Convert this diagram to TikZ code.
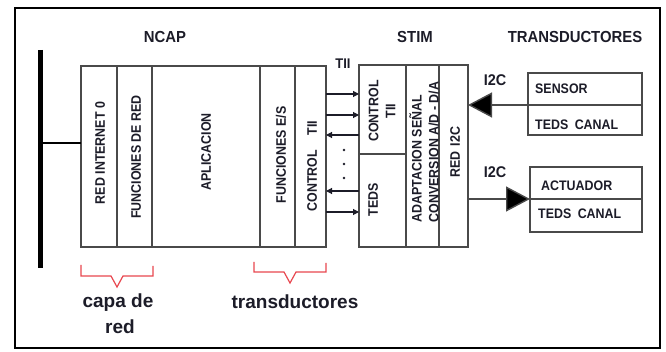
\documentclass[tikz,border=0pt]{standalone}
\usepackage{fontspec}
\setmainfont{Liberation Sans}
\newfontfamily\narrowf[FakeStretch=0.9]{Liberation Sans}
\newfontfamily\headf[FakeStretch=0.93]{Liberation Sans}
\usetikzlibrary{arrows.meta,calc}
\definecolor{boxc}{HTML}{4A4A4A}
\definecolor{txtc}{HTML}{1C1C28}
\definecolor{bracec}{HTML}{E8474F}
\begin{document}
\begin{tikzpicture}[x=1pt,y=-1pt,
  box/.style={draw=boxc, line width=1.4pt, fill=white, inner sep=0pt, outer sep=0pt},
  vtxt/.style={rotate=90, font=\narrowf\bfseries\fontsize{13.8}{17}\selectfont, text=txtc, inner sep=0pt},
  htxt/.style={font=\narrowf\bfseries\fontsize{13.8}{15}\selectfont, text=txtc, inner sep=0pt, anchor=west},
  head/.style={font=\headf\bfseries\fontsize{16}{18}\selectfont, text=txtc, inner sep=0pt},
  bigtxt/.style={font=\bfseries\fontsize{19}{22}\selectfont, text=txtc, inner sep=0pt},
  i2c/.style={font=\headf\bfseries\fontsize{15.5}{17}\selectfont, text=txtc, inner sep=0pt},
  sig/.style={draw=txtc, line width=1.1pt, -{Triangle[length=6pt,width=6pt]}},
  bigarrow/.style={draw=boxc, line width=1.4pt, -{Triangle[length=24pt,width=25pt,fill=black]}},
  bracel/.style={draw=bracec, line width=1.2pt}]
\useasboundingbox (0,0) rectangle (666,352);
% frame
\node[draw=black, line width=2pt, minimum width=645pt, minimum height=340pt, inner sep=0pt] (frame) at (337.5,178) {};
% bus
\coordinate (busT) at (40,50);
\coordinate (busB) at (40,268);
\coordinate (busM) at (40,143);
\draw[line width=5pt] (busT) -- (busB);
% NCAP columns
\node[box, minimum width=36pt, minimum height=181pt] (c1) at (99,156.5) {};
\node[box, minimum width=35pt, minimum height=181pt] (c2) at (134.5,156.5) {};
\node[box, minimum width=108pt, minimum height=181pt] (c3) at (206,156.5) {};
\node[box, minimum width=35pt, minimum height=181pt] (c4) at (277.5,156.5) {};
\node[box, minimum width=31pt, minimum height=181pt] (c5) at (310.5,156.5) {};
\draw[line width=2.2pt] (busM) -- (c1.west |- busM);
\node[vtxt] (t1) at (100,153) {RED INTERNET 0};
\node[vtxt] (t2) at (136,157) {FUNCIONES DE RED};
\node[vtxt] (t3) at (206,152) {APLICACION};
\node[vtxt] (t4) at (281,155) {FUNCIONES E/S};
\node[vtxt] (t5) at (312,166) {CONTROL\hspace{15pt}TII};
% STIM
\node[box, minimum width=47pt, minimum height=89pt] (sc) at (382.5,109.5) {};
\node[box, minimum width=47pt, minimum height=93pt] (st) at (382.5,200.5) {};
\node[box, minimum width=33pt, minimum height=182pt] (sa) at (422.5,156) {};
\node[box, minimum width=29pt, minimum height=182pt] (sr) at (453.5,156) {};
\node[vtxt, align=center] (tsc) at (382,111) {CONTROL\\TII};
\node[vtxt] (tst) at (373,200) {TEDS};
\node[vtxt, align=left] (tsa) at (424,152) {ADAPTACION SEÑAL\\CONVERSION A/D - D/A};
\node[vtxt] (tsr) at (455,152) {RED\hspace{5pt}I2C};
% headers
\node[head] (hn) at (165,37) {NCAP};
\node[head] (hs) at (415,37) {STIM};
\node[head] (ht) at (575,37) {TRANSDUCTORES};
\node[font=\headf\bfseries\fontsize{14}{15}\selectfont, text=txtc, inner sep=0pt] (tii) at (343,64) {TII};
% signal arrows
\draw[sig] (c5.east |- 0,94) -- (sc.west |- 0,94);
\draw[sig] (c5.east |- 0,115) -- (sc.west |- 0,115);
\draw[sig] (sc.west |- 0,135) -- (c5.east |- 0,135);
\draw[sig] (st.west |- 0,191) -- (c5.east |- 0,191);
\draw[sig] (c5.east |- 0,212) -- (st.west |- 0,212);
\foreach \yy/\nm in {150/d1,164/d2,178/d3}{
  \fill[txtc] (344,\yy) circle (1.3pt) coordinate (\nm);
}
% transducers
\node[box, minimum width=114pt, minimum height=32pt] (sen) at (585,89) {};
\node[box, minimum width=114pt, minimum height=30pt] (sent) at (585,120) {};
\node[htxt] (tsen) at (535,89) {SENSOR};
\node[htxt] (tsent) at (535,125) {TEDS\hspace{3pt} CANAL};
\node[box, minimum width=112pt, minimum height=32pt] (act) at (586,183) {};
\node[box, minimum width=112pt, minimum height=33pt] (actt) at (586,215.5) {};
\node[htxt] (tact) at (541,186) {ACTUADOR};
\node[htxt] (tactt) at (538,214) {TEDS\hspace{3pt} CANAL};
\draw[bigarrow] (sen.south west) -- (sr.east |- sen.south west);
\draw[bigarrow] (sr.east |- act.south west) -- (act.south west);
\node[i2c] (i2a) at (495,80) {I2C};
\node[i2c] (i2b) at (495,172) {I2C};
% braces
\coordinate (b1a) at (81,265);
\coordinate (b1b) at (153,266);
\draw[bracel] (b1a) -- (81,276) -- (111,276) -- (117,287) -- (123,276) -- (153,276) -- (b1b);
\coordinate (b2a) at (254,262);
\coordinate (b2b) at (326,263);
\draw[bracel] (b2a) -- (254,272) -- (284,272) -- (290,283) -- (296,272) -- (326,272) -- (b2b);
\node[bigtxt] (cap1) at (118,303) {capa de};
\node[bigtxt] (cap2) at (120,327) {red};
\node[bigtxt] (trd) at (295,302) {transductores};
\end{tikzpicture}
\end{document}
